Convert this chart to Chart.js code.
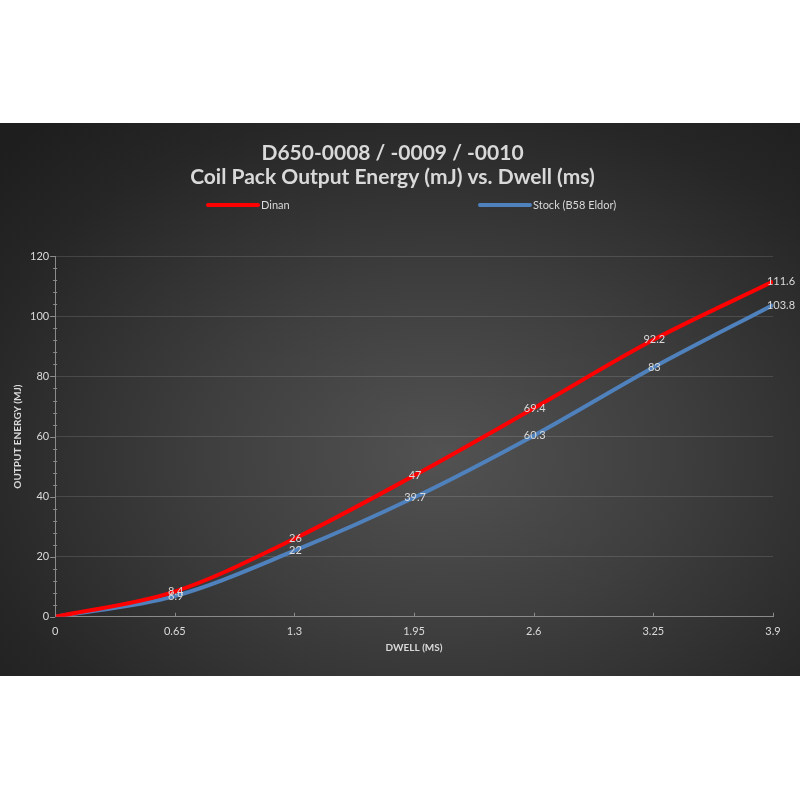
<!DOCTYPE html>
<html>
<head>
<meta charset="utf-8">
<script src="https://cdn.jsdelivr.net/npm/chart.js@4.4.1/dist/chart.umd.min.js"></script>
<style>
  html, body { margin: 0; padding: 0; background: #ffffff; width: 800px; height: 800px; overflow: hidden; }
  #band {
    position: absolute; left: 0; top: 123px; width: 800px; height: 553px;
    background: radial-gradient(ellipse 75% 80% at 55% 60%, #525252 0%, #3e3e3e 40%, #262626 80%, #1e1e1e 100%);
  }
  canvas { display: block; }
</style>
</head>
<body>
<div id="band"><canvas id="c" width="800" height="553"></canvas></div>
<script>
const titleLines = ['D650-0008 / -0009 / -0010', 'Coil Pack Output Energy (mJ) vs. Dwell (ms)'];
const dwell = [0, 0.65, 1.3, 1.95, 2.6, 3.25, 3.9];
const dinan = [0, 8.4, 26, 47, 69.4, 92.2, 111.6];
const stock = [0, 6.9, 22, 39.7, 60.3, 83, 103.8];
const seriesNames = ['Dinan', 'Stock (B58 Eldor)'];
const xTitle = 'DWELL (MS)';
const yTitle = 'OUTPUT ENERGY (MJ)';

const FONT = 'Lato, "Open Sans", sans-serif';
const TXT = '#d9d9d9';
const RED = '#ff0000';
const BLUE = '#4f81bd';

function pts(xs, ys) { return xs.map((x, i) => ({ x: x, y: ys[i] })); }

const extras = {
  id: 'extras',
  afterDraw(chart) {
    const ctx = chart.ctx;
    const xs = chart.scales.x, ys = chart.scales.y;
    const area = chart.chartArea;
    ctx.save();
    // minor ticks on y axis
    ctx.strokeStyle = '#8a8a8a';
    ctx.lineWidth = 1;
    for (let v = 0; v <= 120; v += 4) {
      const y = Math.round(ys.getPixelForValue(v)) + 0.5;
      ctx.beginPath();
      if (v % 20 === 0) { ctx.moveTo(area.left - 5, y); ctx.lineTo(area.left, y); }
      else { ctx.moveTo(area.left - 2, y); ctx.lineTo(area.left + 2, y); }
      ctx.stroke();
    }
    // x tick marks (upward)
    dwell.forEach(v => {
      const x = Math.round(xs.getPixelForValue(v)) + 0.5;
      ctx.beginPath();
      ctx.moveTo(x, area.bottom); ctx.lineTo(x, area.bottom - 4);
      ctx.stroke();
    });
    // data labels
    ctx.font = '11px ' + FONT;
    ctx.fillStyle = TXT;
    ctx.textAlign = 'center';
    ctx.textBaseline = 'middle';
    chart.data.datasets.forEach((ds, di) => {
      const meta = chart.getDatasetMeta(di);
      meta.data.forEach((p, i) => {
        if (i === 0) return;
        const last = i === meta.data.length - 1;
        ctx.fillText(String(ds.data[i].y), p.x + (last ? 8 : 1), p.y);
      });
    });
    // legend
    const ly = 82;
    const items = [
      { x: 208, color: RED, text: seriesNames[0] },
      { x: 480, color: BLUE, text: seriesNames[1] }
    ];
    ctx.textAlign = 'left';
    ctx.font = '11px ' + FONT;
    items.forEach(it => {
      ctx.strokeStyle = it.color;
      ctx.lineWidth = 4;
      ctx.lineCap = 'round';
      ctx.beginPath();
      ctx.moveTo(it.x, ly); ctx.lineTo(it.x + 50, ly);
      ctx.stroke();
      ctx.fillStyle = TXT;
      ctx.fillText(it.text, it.x + 53, ly);
    });
    ctx.restore();
  }
};

new Chart(document.getElementById('c'), {
  type: 'line',
  data: {
    datasets: [
      { label: seriesNames[0], data: pts(dwell, dinan), borderColor: RED, backgroundColor: RED,
        borderWidth: 4, pointRadius: 0, tension: 0.4, cubicInterpolationMode: 'monotone' },
      { label: seriesNames[1], data: pts(dwell, stock), borderColor: BLUE, backgroundColor: BLUE,
        borderWidth: 4, pointRadius: 0, tension: 0.4, cubicInterpolationMode: 'monotone' }
    ]
  },
  plugins: [extras],
  options: {
    responsive: false,
    animation: false,
    layout: { padding: { left: 12, right: 27, top: 0, bottom: 22 } },
    plugins: {
      legend: { display: false },
      tooltip: { enabled: false },
      title: {
        display: true, text: titleLines, color: TXT,
        font: { family: FONT, size: 21, weight: 'bold', lineHeight: 1.15 },
        padding: { top: 18, bottom: 67 }
      }
    },
    scales: {
      x: {
        type: 'linear', min: 0, max: 3.9,
        afterBuildTicks: (axis) => { axis.ticks = dwell.map(v => ({ value: v })); },
        ticks: { color: TXT, font: { family: FONT, size: 11 }, padding: 8,
                 callback: (v) => String(Math.round(v * 100) / 100) },
        grid: { display: false, drawTicks: false },
        border: { color: '#8a8a8a', width: 1 },
        title: { display: true, text: xTitle, color: TXT, font: { family: FONT, size: 10, weight: 'bold' }, padding: { top: -4, bottom: 0 } }
      },
      y: {
        min: 0, max: 120,
        ticks: { stepSize: 20, color: TXT, font: { family: FONT, size: 11 }, padding: 6 },
        grid: { color: 'rgba(255,255,255,0.13)', drawTicks: false },
        border: { color: '#8a8a8a', width: 1 },
        title: { display: true, text: yTitle, color: TXT, font: { family: FONT, size: 10, weight: 'bold' }, padding: { top: 0, bottom: 0 } }
      }
    }
  }
});
</script>
</body>
</html>
